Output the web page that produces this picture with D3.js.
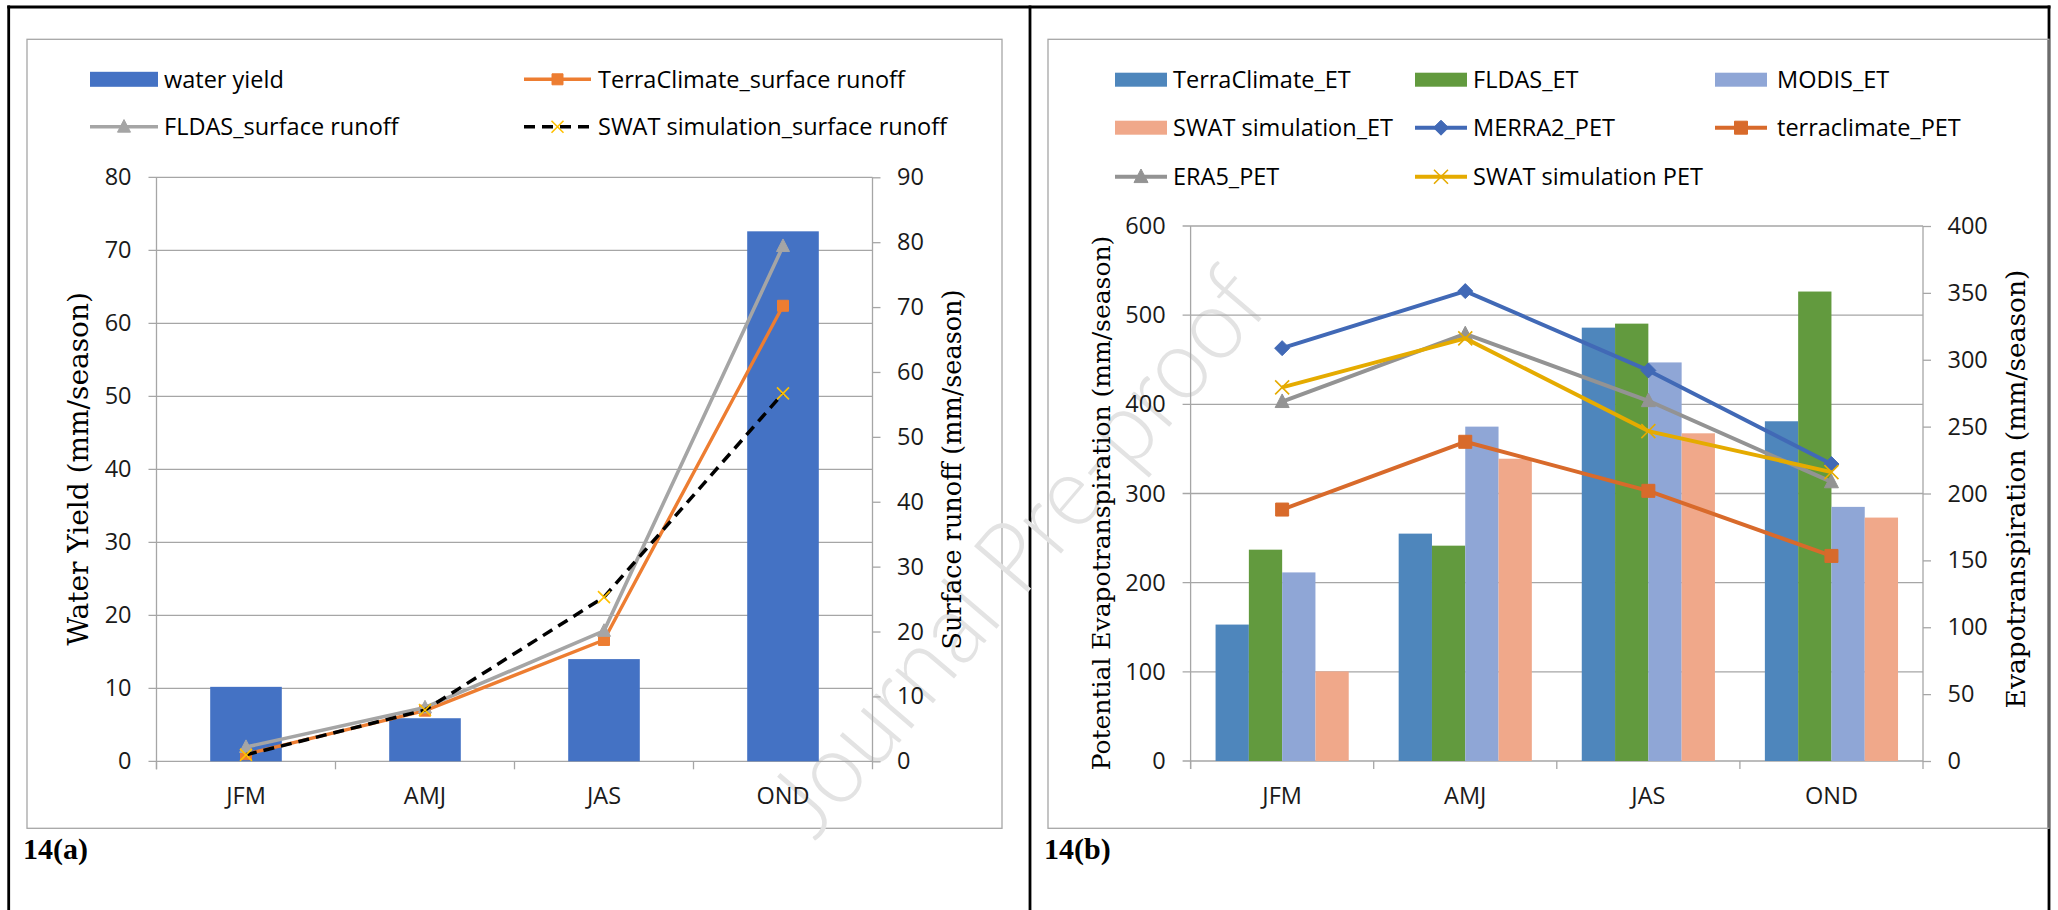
<!DOCTYPE html>
<html>
<head>
<meta charset="utf-8">
<script src="https://cdn.jsdelivr.net/npm/d3@7"></script>
<style>
  body { margin: 0; background: #fff; }
</style>
</head>
<body>
<div id="fig"></div>
<script>
// seasons on the x axis of both panels
const seasons = ["JFM", "AMJ", "JAS", "OND"];

// 14(a) - water yield (left axis) and surface runoff (right axis)
const waterYield = [10.2, 5.9, 14.0, 72.6];
const terraRunoff = [1.1, 7.8, 18.7, 70.2];
const fldasRunoff = [2.2, 8.3, 20.1, 79.4];
const swatRunoff = [1.0, 7.9, 25.3, 56.7];
const yieldTicks = [0, 10, 20, 30, 40, 50, 60, 70, 80];
const runoffTicks = [0, 10, 20, 30, 40, 50, 60, 70, 80, 90];

// 14(b) - ET bars (right axis) and PET lines (left axis)
const terraET = [102, 170, 324, 254];
const fldasET = [158, 161, 327, 351];
const modisET = [141, 250, 298, 190];
const swatET = [67, 226, 245, 182];
const merraPET = [463, 527, 438, 333];
const terraPET = [282, 358, 303, 230];
const era5PET = [403, 479, 404, 313];
const swatPET = [419, 474, 370, 324];
const petTicks = [0, 100, 200, 300, 400, 500, 600];
const etTicks = [0, 50, 100, 150, 200, 250, 300, 350, 400];

const W = 2058, H = 910;
const sansFont = "'Open Sans', Carlito, Calibri, sans-serif";
const sansSize = 23.5;
const serifFont = "'DejaVu Serif', serif";
const gridColor = "#a6a6a6";

const svg = d3.select("#fig").append("svg")
    .attr("width", W)
    .attr("height", H);

svg.append("rect").attr("width", W).attr("height", H).attr("fill", "#fff");

// marker shapes, like excel's defaults
function marker(type, s) {
  const h = s / 2;
  if (type == "square") return `M${-h},${-h}h${s}v${s}h${-s}Z`;
  if (type == "diamond") return `M0,${-h}L${h},0L0,${h}L${-h},0Z`;
  if (type == "triangle") return `M0,${-s * 0.55}L${h},${s * 0.42}L${-h},${s * 0.42}Z`;
  return `M${-h},${-h}L${h},${h}M${h},${-h}L${-h},${h}`;
}

// outer table frame
const frame = svg.append("g").attr("stroke", "#000").attr("stroke-width", 2.8);
frame.append("line").attr("x1", 7.3).attr("x2", 2050.5).attr("y1", 7).attr("y2", 7);
frame.append("line").attr("x1", 8.7).attr("x2", 8.7).attr("y1", 5.6).attr("y2", H);
frame.append("line").attr("x1", 1030).attr("x2", 1030).attr("y1", 5.6).attr("y2", H);
frame.append("line").attr("x1", 2049).attr("x2", 2049).attr("y1", 5.6).attr("y2", H);

// chart area boxes
svg.append("rect").attr("x", 27).attr("y", 39.3).attr("width", 975).attr("height", 789)
    .attr("fill", "none").attr("stroke", gridColor).attr("stroke-width", 1.3);
svg.append("rect").attr("x", 1048).attr("y", 39.3).attr("width", 1001).attr("height", 789)
    .attr("fill", "none").attr("stroke", gridColor).attr("stroke-width", 1.3);

// watermark
svg.append("text")
    .attr("transform", "translate(1017,551) rotate(-49.5)")
    .attr("text-anchor", "middle")
    .attr("dy", "0.35em")
    .attr("font-family", "Lato, sans-serif")
    .attr("font-weight", 300)
    .attr("font-size", 100)
    .attr("textLength", 705)
    .attr("lengthAdjust", "spacingAndGlyphs")
    .attr("fill", "#e3e3e3")
    .text("Journal Pre-proof");

// shared axis drawing for one panel
function drawFrame(g, P, x, yL, yR, ticksL, ticksR) {
  // gridlines from the left axis ticks
  g.append("g")
    .selectAll("line").data(ticksL).join("line")
      .attr("x1", P.x0 - 8).attr("x2", P.x1)
      .attr("y1", d => yL(d)).attr("y2", d => yL(d))
      .attr("stroke", gridColor).attr("stroke-width", 1.3);

  const left = g.append("g")
      .attr("transform", `translate(${P.x0},0)`)
      .call(d3.axisLeft(yL).tickValues(ticksL).tickSize(0).tickPadding(25));
  const right = g.append("g")
      .attr("transform", `translate(${P.x1},0)`)
      .call(d3.axisRight(yR).tickValues(ticksR).tickSize(8).tickPadding(16.5));
  const bottom = g.append("g")
      .attr("transform", `translate(0,${P.y1})`)
      .call(d3.axisBottom(x).tickSize(0).tickPadding(26));

  [left, right, bottom].forEach(a => {
    a.attr("font-family", sansFont).attr("font-size", sansSize);
    a.selectAll("text").attr("fill", "#1a1a1a");
    a.selectAll("line").attr("stroke", gridColor).attr("stroke-width", 1.3);
    a.select(".domain").remove();
  });

  // axis lines and category boundary ticks
  g.append("line").attr("x1", P.x0).attr("x2", P.x0).attr("y1", P.y0).attr("y2", P.y1 + 8)
      .attr("stroke", gridColor).attr("stroke-width", 1.3);
  g.append("line").attr("x1", P.x1).attr("x2", P.x1).attr("y1", P.y0).attr("y2", P.y1 + 8)
      .attr("stroke", gridColor).attr("stroke-width", 1.3);
  g.append("g")
    .selectAll("line").data(seasons).join("line")
      .attr("x1", d => x(d)).attr("x2", d => x(d))
      .attr("y1", P.y1).attr("y2", P.y1 + 8)
      .attr("stroke", gridColor).attr("stroke-width", 1.3);
}

function axisTitle(g, text, cx, cy, size) {
  g.append("text")
      .attr("transform", `translate(${cx},${cy}) rotate(-90)`)
      .attr("text-anchor", "middle")
      .attr("dy", "0.32em")
      .attr("font-family", serifFont)
      .attr("font-size", size)
      .attr("fill", "#000")
      .text(text);
}

function drawLine(g, x, y, vals, s) {
  const pts = seasons.map((d, i) => [x(d) + x.bandwidth() / 2, y(vals[i])]);
  g.append("path")
      .attr("d", d3.line()(pts))
      .attr("fill", "none")
      .attr("stroke", s.color)
      .attr("stroke-width", s.width)
      .attr("stroke-dasharray", s.dash || null)
      .attr("stroke-linejoin", "round");
  g.append("g")
    .selectAll("path").data(pts).join("path")
      .attr("transform", d => `translate(${d[0]},${d[1]})`)
      .attr("d", marker(s.marker, s.size))
      .attr("fill", s.marker == "x" ? "none" : s.markColor)
      .attr("stroke", s.markColor)
      .attr("stroke-width", s.marker == "x" ? 1.6 : 1);
}

function legendItem(g, item, x, y, symW, textGap) {
  if (item.bar) {
    g.append("rect").attr("x", x).attr("y", y - item.h / 2).attr("width", symW).attr("height", item.h)
        .attr("fill", item.color);
  } else {
    g.append("line").attr("x1", x).attr("x2", x + symW).attr("y1", y).attr("y2", y)
        .attr("stroke", item.color).attr("stroke-width", item.width)
        .attr("stroke-dasharray", item.dash || null);
    g.append("path")
        .attr("transform", `translate(${x + symW / 2},${y})`)
        .attr("d", marker(item.marker, item.size))
        .attr("fill", item.marker == "x" ? "none" : item.markColor)
        .attr("stroke", item.markColor)
        .attr("stroke-width", item.marker == "x" ? 1.6 : 1);
  }
  g.append("text")
      .attr("x", x + symW + textGap).attr("y", y)
      .attr("dy", "0.35em")
      .attr("font-family", sansFont)
      .attr("font-size", sansSize)
      .attr("fill", "#000")
      .text(item.name);
}

// ---------- 14(a) ----------
const PA = { x0: 156.5, x1: 872.5, y0: 177.3, y1: 761.3 };
const ga = svg.append("g");
const xa = d3.scaleBand().domain(seasons).range([PA.x0, PA.x1]);
const yaL = d3.scaleLinear().domain([0, 80]).range([PA.y1, PA.y0]);
const yaR = d3.scaleLinear().domain([0, 90]).range([PA.y1, PA.y0]);

drawFrame(ga, PA, xa, yaL, yaR, yieldTicks, runoffTicks);

const barWa = xa.bandwidth() / 2.5;
ga.append("g")
  .selectAll("rect").data(seasons).join("rect")
    .attr("x", d => xa(d) + (xa.bandwidth() - barWa) / 2)
    .attr("width", barWa)
    .attr("y", (d, i) => yaL(waterYield[i]))
    .attr("height", (d, i) => PA.y1 - yaL(waterYield[i]))
    .attr("fill", "#4472C4");

const runoffSeries = [
  { name: "TerraClimate_surface runoff", vals: terraRunoff, color: "#ED7D31", width: 3.4, marker: "square", size: 11, markColor: "#ED7D31" },
  { name: "FLDAS_surface runoff", vals: fldasRunoff, color: "#A5A5A5", width: 3.6, marker: "triangle", size: 13, markColor: "#A5A5A5" },
  { name: "SWAT simulation_surface runoff", vals: swatRunoff, color: "#000", width: 3.5, dash: "11,7", marker: "x", size: 12, markColor: "#FFC000" }
];
runoffSeries.forEach(s => drawLine(ga, xa, yaR, s.vals, s));

axisTitle(ga, "Water Yield (mm/season)", 79, 469, 28);
axisTitle(ga, "Surface runoff (mm/season)", 953, 469.5, 25.5);

legendItem(ga, { name: "water yield", bar: true, color: "#4472C4", h: 15 }, 90, 79.3, 68, 6);
legendItem(ga, runoffSeries[0], 524, 79.3, 67, 7);
legendItem(ga, runoffSeries[1], 90, 126.7, 68, 6);
legendItem(ga, runoffSeries[2], 524, 126.7, 67, 7);

ga.append("text").attr("x", 23).attr("y", 858.5)
    .attr("font-family", "'Liberation Serif', serif").attr("font-weight", "bold")
    .attr("font-size", 30).text("14(a)");

// ---------- 14(b) ----------
const PB = { x0: 1190.6, x1: 1923, y0: 226, y1: 761 };
const gb = svg.append("g");
const xb = d3.scaleBand().domain(seasons).range([PB.x0, PB.x1]);
const ybL = d3.scaleLinear().domain([0, 600]).range([PB.y1, PB.y0]);
const ybR = d3.scaleLinear().domain([0, 400]).range([PB.y1, PB.y0]);

drawFrame(gb, PB, xb, ybL, ybR, petTicks, etTicks);

const etSeries = [
  { name: "TerraClimate_ET", vals: terraET, color: "#4E86BC" },
  { name: "FLDAS_ET", vals: fldasET, color: "#629A3E" },
  { name: "MODIS_ET", vals: modisET, color: "#8FA6D6" },
  { name: "SWAT simulation_ET", vals: swatET, color: "#F0A88A" }
];
const barWb = xb.bandwidth() / 5.5;
const xsub = d3.scaleBand().domain(etSeries.map(s => s.name))
    .range([barWb * 0.75, xb.bandwidth() - barWb * 0.75]);
etSeries.forEach(s => {
  gb.append("g")
    .selectAll("rect").data(seasons).join("rect")
      .attr("x", d => xb(d) + xsub(s.name))
      .attr("width", xsub.bandwidth())
      .attr("y", (d, i) => ybR(s.vals[i]))
      .attr("height", (d, i) => PB.y1 - ybR(s.vals[i]))
      .attr("fill", s.color);
});

const petSeries = [
  { name: "MERRA2_PET", vals: merraPET, color: "#4169B6", width: 4, marker: "diamond", size: 15, markColor: "#4169B6" },
  { name: "terraclimate_PET", vals: terraPET, color: "#D86A2B", width: 4, marker: "square", size: 13, markColor: "#D86A2B" },
  { name: "ERA5_PET", vals: era5PET, color: "#939393", width: 4, marker: "triangle", size: 14, markColor: "#939393" },
  { name: "SWAT simulation PET", vals: swatPET, color: "#E5AB00", width: 4, marker: "x", size: 14, markColor: "#E5AB00" }
];
petSeries.forEach(s => drawLine(gb, xb, ybL, s.vals, s));

axisTitle(gb, "Potential Evapotranspiration (mm/season)", 1102, 503, 25);
axisTitle(gb, "Evapotranspiration (mm/season)", 2017, 489, 26.5);

const rows = [79.7, 127.7, 176.7];
const cols = [1115, 1415, 1715];
const legendB = etSeries.map(s => ({ name: s.name, bar: true, color: s.color, h: 14 })).concat(petSeries);
legendB.forEach((item, i) => {
  const c = i % 3, r = Math.floor(i / 3);
  legendItem(gb, item, cols[c], rows[r], 52, c == 2 ? 10 : 6);
});

gb.append("text").attr("x", 1044).attr("y", 858.5)
    .attr("font-family", "'Liberation Serif', serif").attr("font-weight", "bold")
    .attr("font-size", 30).text("14(b)");
</script>
</body>
</html>
